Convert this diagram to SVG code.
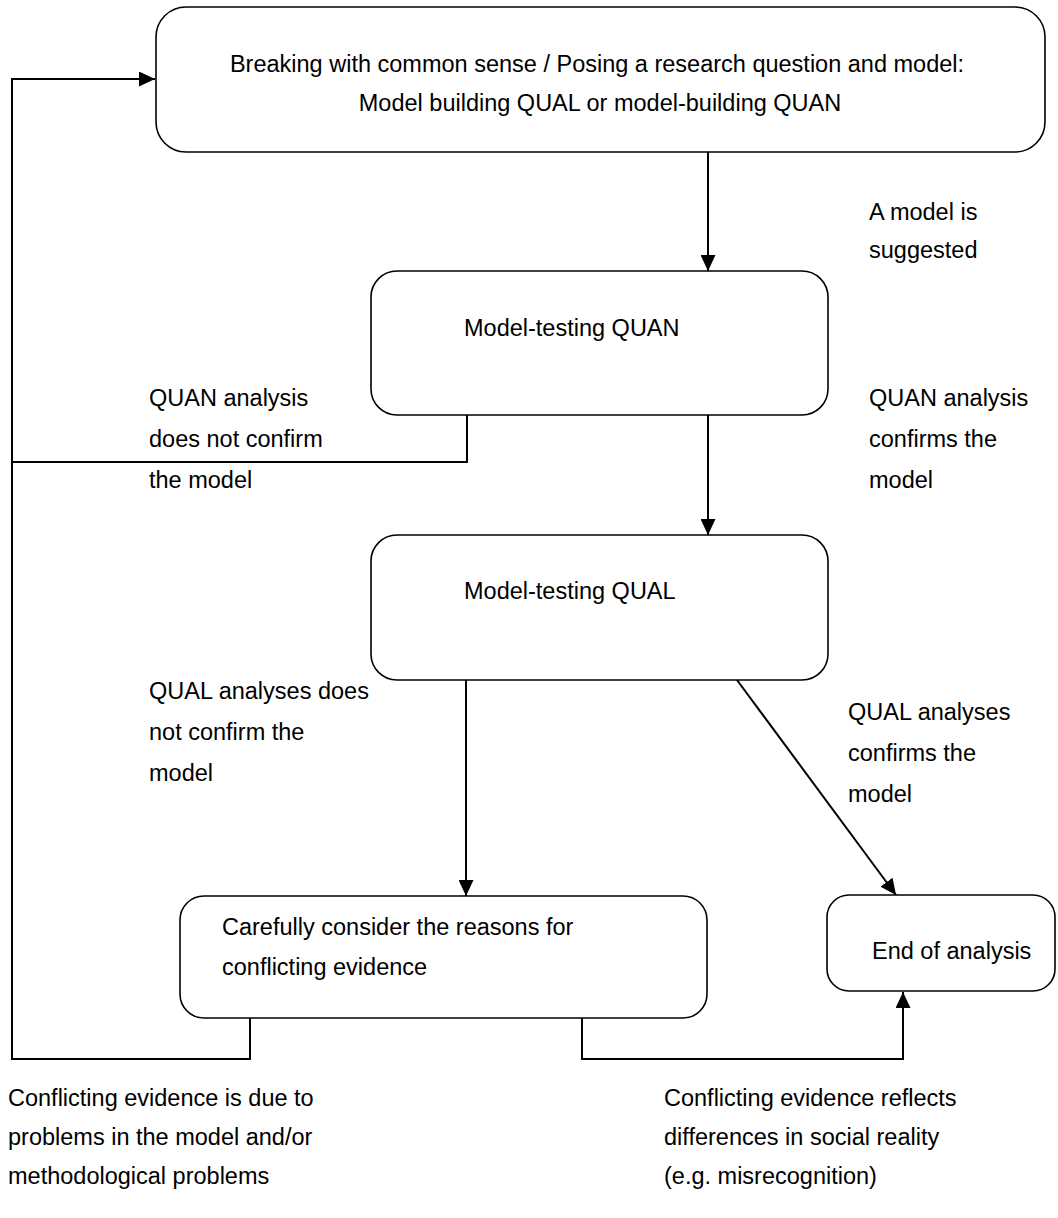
<svg xmlns="http://www.w3.org/2000/svg" width="1058" height="1218" viewBox="0 0 1058 1218">
<style>
  .box { fill: #ffffff; stroke: #000000; stroke-width: 1.6; }
  .conn { fill: none; stroke: #000000; stroke-width: 2; }
  text { font-family: "Liberation Sans", Arial, sans-serif; font-size: 23.5px; fill: #000000; }
  .mid { text-anchor: middle; }
</style>
<defs>
  <marker id="arrow" markerUnits="userSpaceOnUse" markerWidth="16" markerHeight="15" refX="16" refY="7.5" orient="auto">
    <path d="M0,0 L16,7.5 L0,15 z" fill="#000000"/>
  </marker>
</defs>
<rect width="1058" height="1218" fill="#ffffff"/>
<g id="connectors">
  <path class="conn" d="M250,1018 V1059 H12 V79 H155" marker-end="url(#arrow)"/>
  <path class="conn" d="M467,415 V462 H12"/>
  <path class="conn" d="M708,152 V271" marker-end="url(#arrow)"/>
  <path class="conn" d="M708,415 V535" marker-end="url(#arrow)"/>
  <path class="conn" d="M466,680 V896" marker-end="url(#arrow)"/>
  <path class="conn" d="M737,680 L896,895" marker-end="url(#arrow)"/>
  <path class="conn" d="M582,1018 V1059 H903 V992" marker-end="url(#arrow)"/>
</g>
<g id="node-start">
  <rect class="box" x="156" y="7" width="889" height="145" rx="30" ry="30"/>
  <text class="mid" x="597" y="72">Breaking with common sense / Posing a research question and model:</text>
  <text class="mid" x="600" y="111">Model building QUAL or model-building QUAN</text>
</g>
<g id="node-quan">
  <rect class="box" x="371" y="271" width="457" height="144" rx="26" ry="26"/>
  <text x="464" y="336">Model-testing QUAN</text>
</g>
<g id="node-qual">
  <rect class="box" x="371" y="535" width="457" height="145" rx="26" ry="26"/>
  <text x="464" y="599">Model-testing QUAL</text>
</g>
<g id="node-careful">
  <rect class="box" x="180" y="896" width="527" height="122" rx="24" ry="24"/>
  <text x="222" y="935">Carefully consider the reasons for</text>
  <text x="222" y="975">conflicting evidence</text>
</g>
<g id="node-end">
  <rect class="box" x="827" y="895" width="228" height="96" rx="22" ry="22"/>
  <text x="872" y="959">End of analysis</text>
</g>
<g id="labels">
  <text x="869" y="220">A model is</text>
  <text x="869" y="258">suggested</text>
  <text x="149" y="406">QUAN analysis</text>
  <text x="149" y="447">does not confirm</text>
  <text x="149" y="488">the model</text>
  <text x="869" y="406">QUAN analysis</text>
  <text x="869" y="447">confirms the</text>
  <text x="869" y="488">model</text>
  <text x="149" y="699">QUAL analyses does</text>
  <text x="149" y="740">not confirm the</text>
  <text x="149" y="781">model</text>
  <text x="848" y="720">QUAL analyses</text>
  <text x="848" y="761">confirms the</text>
  <text x="848" y="802">model</text>
  <text x="8" y="1106">Conflicting evidence is due to</text>
  <text x="8" y="1145">problems in the model and/or</text>
  <text x="8" y="1184">methodological problems</text>
  <text x="664" y="1106">Conflicting evidence reflects</text>
  <text x="664" y="1145">differences in social reality</text>
  <text x="664" y="1184">(e.g. misrecognition)</text>
</g>
</svg>
